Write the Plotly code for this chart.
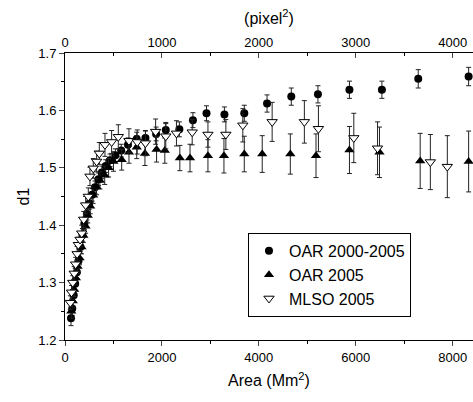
import plotly.graph_objects as go

# OAR 2000-2005 (filled circles)
oar_all_x = [124, 150, 180, 210, 245, 280, 320, 360, 400, 450, 500, 560, 620, 690, 760, 840, 930, 1040, 1160,
             1300, 1480, 1660, 1880, 2080, 2360, 2640, 2920, 3290, 3700, 4170, 4670, 5220, 5870, 6540, 7290, 8330]
oar_all_y = [1.238, 1.255, 1.278, 1.298, 1.318, 1.338, 1.362, 1.383, 1.403, 1.420, 1.438, 1.453, 1.466, 1.480,
             1.492, 1.503, 1.513, 1.522, 1.530, 1.540, 1.550, 1.552, 1.559, 1.566, 1.567, 1.583, 1.595, 1.593,
             1.595, 1.612, 1.624, 1.628, 1.636, 1.636, 1.655, 1.659]
oar_all_e = [0.013, 0.012, 0.012, 0.012, 0.012, 0.012, 0.011, 0.011, 0.011, 0.011, 0.011, 0.011, 0.011, 0.011,
             0.011, 0.011, 0.011, 0.011, 0.011, 0.012, 0.012, 0.012, 0.012, 0.013, 0.013, 0.013, 0.013, 0.013,
             0.014, 0.015, 0.015, 0.015, 0.015, 0.015, 0.016, 0.016]

# OAR 2005 (filled up-triangles)
oar05_x = [130, 160, 190, 225, 260, 300, 340, 380, 425, 470, 520, 580, 650, 720, 820, 900, 1000, 1170, 1320,
           1480, 1650, 1890, 2060, 2370, 2580, 2950, 3280, 3700, 4070, 4650, 5180, 5870, 6490, 7330, 8330]
oar05_y = [1.250, 1.268, 1.288, 1.308, 1.328, 1.343, 1.362, 1.382, 1.398, 1.417, 1.433, 1.452, 1.467, 1.478,
           1.487, 1.500, 1.511, 1.514, 1.527, 1.536, 1.525, 1.532, 1.530, 1.517, 1.517, 1.521, 1.521, 1.524,
           1.524, 1.524, 1.521, 1.531, 1.527, 1.512, 1.511]
oar05_e = [0.012, 0.012, 0.012, 0.012, 0.012, 0.012, 0.012, 0.012, 0.012, 0.013, 0.013, 0.014, 0.014, 0.015,
           0.016, 0.016, 0.017, 0.018, 0.019, 0.020, 0.021, 0.022, 0.022, 0.022, 0.024, 0.028, 0.030, 0.031,
           0.032, 0.035, 0.038, 0.041, 0.044, 0.048, 0.053]

# MLSO 2005 (open down-triangles)
mlso_x = [110, 135, 160, 190, 220, 250, 275, 310, 345, 385, 426, 481, 515, 584, 653, 708, 825, 962, 1100,
          1320, 1490, 1660, 1870, 2080, 2300, 2625, 2950, 3320, 3670, 4275, 4940, 5230, 5960, 6450, 7540, 7890]
mlso_y = [1.265, 1.283, 1.300, 1.316, 1.332, 1.350, 1.366, 1.375, 1.386, 1.410, 1.435, 1.450, 1.485, 1.499,
          1.511, 1.525, 1.540, 1.545, 1.554, 1.547, 1.545, 1.543, 1.563, 1.555, 1.560, 1.562, 1.558, 1.558,
          1.574, 1.580, 1.580, 1.568, 1.552, 1.534, 1.510, 1.502]
mlso_e = [0.012, 0.012, 0.012, 0.012, 0.012, 0.013, 0.013, 0.013, 0.014, 0.014, 0.015, 0.015, 0.016, 0.017,
          0.018, 0.019, 0.020, 0.020, 0.021, 0.021, 0.021, 0.022, 0.022, 0.022, 0.022, 0.022, 0.022, 0.026,
          0.029, 0.034, 0.037, 0.040, 0.043, 0.046, 0.048, 0.054]

x_max = 8420
bottom_ticks = [0, 2000, 4000, 6000, 8000]
top_ticks = [0, 1000, 2000, 3000, 4000]
y_ticks = [1.2, 1.3, 1.4, 1.5, 1.6, 1.7]

font = "Liberation Sans, Arial, sans-serif"
err = lambda e: dict(type="data", array=e, visible=True, color="#222222", thickness=1, width=2.5)

fig = go.Figure()
fig.add_trace(go.Scatter(x=oar_all_x, y=oar_all_y, mode="markers", name="OAR 2000-2005", cliponaxis=False,
                         marker=dict(symbol="circle", size=8, color="black"), error_y=err(oar_all_e)))
fig.add_trace(go.Scatter(x=oar05_x, y=oar05_y, mode="markers", name="OAR 2005", cliponaxis=False,
                         marker=dict(symbol="triangle-up", size=9, color="black"), error_y=err(oar05_e)))
fig.add_trace(go.Scatter(x=mlso_x, y=mlso_y, mode="markers", name="MLSO 2005", cliponaxis=False,
                         marker=dict(symbol="triangle-down", size=9, color="white",
                                     line=dict(color="black", width=1)), error_y=err(mlso_e)))
# invisible trace to activate the top axis
fig.add_trace(go.Scatter(x=[0], y=[1.2], xaxis="x2", mode="markers", showlegend=False,
                         marker=dict(opacity=0), hoverinfo="skip"))

fig.update_layout(
    width=473, height=402,
    margin=dict(l=65, r=0, t=53, b=62),
    paper_bgcolor="white", plot_bgcolor="white",
    font=dict(family=font, size=13, color="black"),
    showlegend=True,
    legend=dict(x=0.4485, y=0.373, xanchor="left", yanchor="top",
                bordercolor="black", borderwidth=1, bgcolor="white",
                font=dict(size=16), tracegroupgap=0),
    xaxis=dict(range=[0, x_max], tickvals=bottom_ticks, ticks="outside", ticklen=5, automargin=False,
               showline=True, linecolor="black", linewidth=1, showgrid=False, zeroline=False,
               minor=dict(dtick=1000, ticks="outside", ticklen=3, tickcolor="black"),
               title=dict(text="Area (Mm<sup>2</sup>)", font=dict(size=16), standoff=11),
               tickfont=dict(size=13)),
    xaxis2=dict(range=[0, x_max / 2], tickvals=top_ticks, overlaying="x", side="top", automargin=False,
                ticks="inside", ticklen=5, showline=True, linecolor="black", linewidth=1,
                showgrid=False, zeroline=False,
                minor=dict(dtick=500, ticks="inside", ticklen=3, tickcolor="black"),
                title=dict(text="(pixel<sup>2</sup>)", font=dict(size=16), standoff=6),
                tickfont=dict(size=13)),
    yaxis=dict(range=[1.2, 1.7], tickvals=y_ticks, tickformat=".1f", ticks="outside", ticklen=5,
               automargin=False,
               showline=True, linecolor="black", linewidth=1, showgrid=False, zeroline=False,
               minor=dict(dtick=0.05, ticks="outside", ticklen=3, tickcolor="black"),
               title=dict(text="d1", font=dict(size=16), standoff=4),
               tickfont=dict(size=13)),
)

fig.write_html("out.html", config={"displayModeBar": False},
               post_script="document.body.style.margin='0';document.body.style.overflow='hidden';")
